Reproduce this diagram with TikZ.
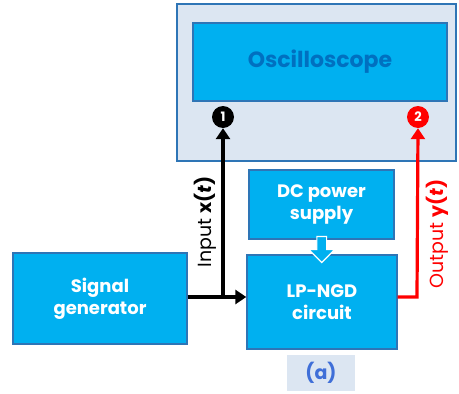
\documentclass[tikz,border=0pt]{standalone}
\usepackage{fontspec}
\setmainfont{Poppins}
\usetikzlibrary{shapes.geometric,shapes.arrows,positioning,calc,arrows.meta}
\definecolor{boxfill}{HTML}{00B0F0}
\definecolor{boxline}{HTML}{2E75B6}
\definecolor{panelfill}{HTML}{DCE6F2}
\definecolor{osctext}{HTML}{0070C0}
\definecolor{labtext}{HTML}{3F6FD8}
\tikzset{ARROW/.style={line width=3.2pt, -{Triangle[length=11pt,width=14pt]}}}
\tikzset{BLOCK/.style={rectangle, draw=boxline, line width=1.4pt, fill=boxfill, text=white, font=\fontsize{18}{22}\selectfont\bfseries, align=center}}
\tikzset{PORT/.style={circle, minimum size=22pt, inner sep=0pt, text=white, font=\fontsize{13}{13}\selectfont\bfseries}}

\begin{document}
\begin{tikzpicture}[x=1pt, y=1pt]
    \useasboundingbox (0,0) rectangle (459,-394);

    \node[rectangle, draw=boxline, line width=1.6pt, fill=panelfill, minimum width=279pt, minimum height=157pt] (n_panel) at (316.5,-82.5) {};
    \node[BLOCK, minimum width=254pt, minimum height=78pt, text=osctext, font=\fontsize{22}{24}\selectfont\bfseries] (n_osc) at (320,-62) {Oscilloscope};

    \node[PORT, fill=black] (n_port1) at (223,-117) {1};
    \node[PORT, fill=red] (n_port2) at (418,-117) {2};

    \node[BLOCK, minimum width=174pt, minimum height=91pt] (n_sig) at (100,-298.5) {Signal\\generator};
    \node[BLOCK, minimum width=145pt, minimum height=69pt] (n_dc) at (321.5,-204.5) {DC power\\supply};
    \node[BLOCK, minimum width=150pt, minimum height=94pt] (n_lp) at (322,-302) {LP-NGD\\circuit};

    \node[rectangle, fill=panelfill, minimum width=68pt, minimum height=36pt, text=labtext, font=\fontsize{19}{21}\selectfont\bfseries] (n_tag) at (321,-373) {(a)};

    % supply arrow
    \node[single arrow, fill=boxfill, draw=white, line width=1.2pt, shape border rotate=270, minimum width=26pt, minimum height=26pt, single arrow head extend=6pt, single arrow head indent=0pt, inner sep=3pt] (n_feed) at ($(n_dc.south)!0.5!(n_lp.north)$) {};

    % input path
    \coordinate (split) at (223,-297);
    \coordinate (bend) at (417,-297);
    \draw[ARROW] (n_sig.east|-split) -- (n_lp.west|-split);
    \draw[ARROW] (split) -- (n_port1.south);
    \node[rotate=90, font=\fontsize{19}{21}\selectfont] (n_in) at (205,-222) {Input \textbf{x(\textit{t})}};

    % output path
    \draw[ARROW, red] (n_lp.east|-bend) -- (bend) -- (n_port2.south);
    \node[rotate=90, text=red, font=\fontsize{19}{21}\selectfont] (n_out) at (437,-234) {Output \textbf{y(\textit{t})}};

\end{tikzpicture}
\end{document}
